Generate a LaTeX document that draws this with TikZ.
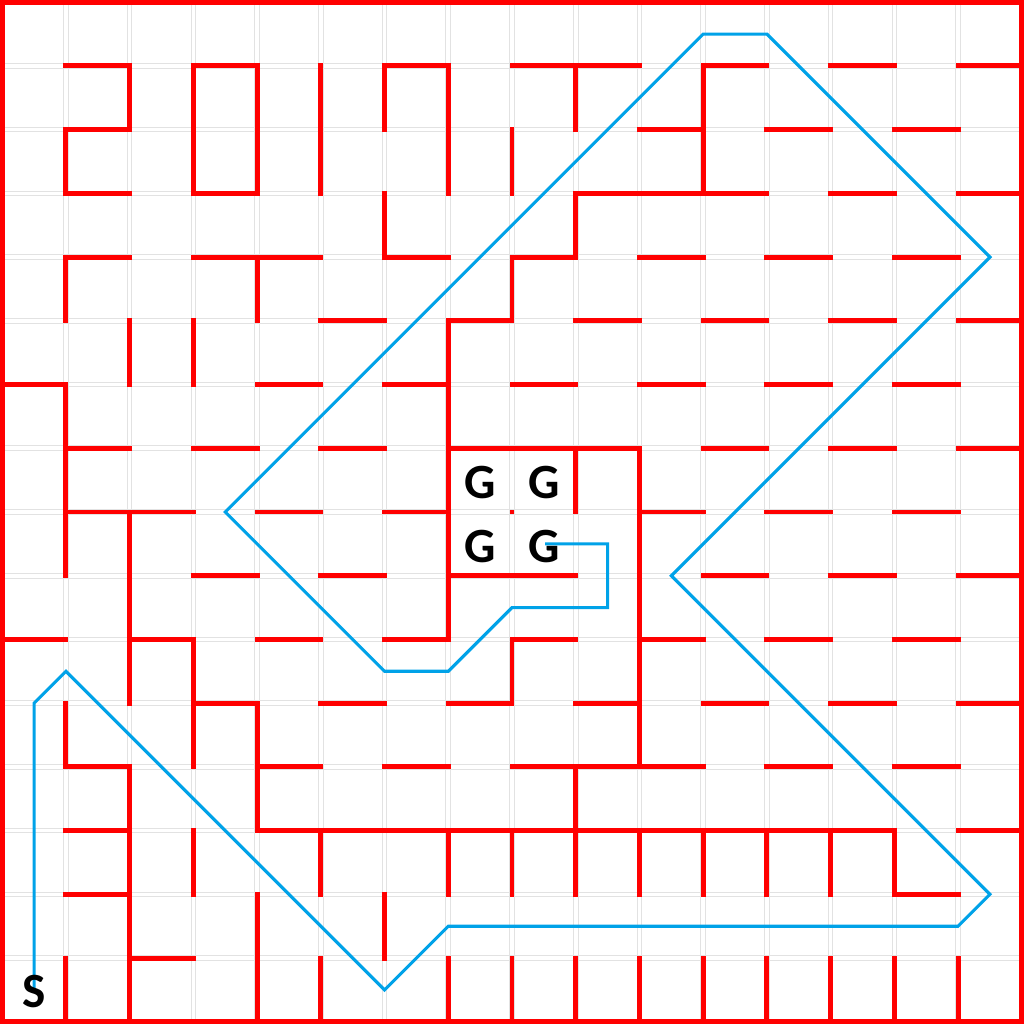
\documentclass[tikz,border=0pt]{standalone}
\usepackage{fontspec}
\setmainfont{Carlito}
\definecolor{wallred}{RGB}{255,0,0}
\definecolor{routeblue}{RGB}{0,162,232}
\definecolor{gridgrey}{RGB}{226,226,226}

\begin{document}
\begin{tikzpicture}[x=1cm,y=-1cm,
  wall/.style={draw=wallred,line width=2.2pt,line cap=rect},
  route/.style={draw=routeblue,line width=1.4pt},
  cellgrid/.style={draw=gridgrey,line width=0.45pt},
  letter/.style={font=\fontsize{22}{22}\selectfont\bfseries,inner sep=0pt}]
\useasboundingbox (-0.035,-0.035) rectangle (16.035,16.035);

% cell lines
\foreach \k in {0,...,16} {
  \draw[cellgrid] (\k-0.036,0) -- (\k-0.036,16) (\k+0.036,0) -- (\k+0.036,16);
  \draw[cellgrid] (0,\k-0.036) -- (16,\k-0.036) (0,\k+0.036) -- (16,\k+0.036);
}

% horizontal walls, row by row
\draw[wall] (1,1) -- (2,1) (3,1) -- (4,1) (6,1) -- (7,1) (8,1) -- (10,1) (11,1) -- (12,1) (13,1) -- (14,1) (15,1) -- (16,1);
\draw[wall] (1,2) -- (2,2) (10,2) -- (11,2) (12,2) -- (13,2) (14,2) -- (15,2);
\draw[wall] (1,3) -- (2,3) (3,3) -- (4,3) (9,3) -- (12,3) (13,3) -- (14,3) (15,3) -- (16,3);
\draw[wall] (1,4) -- (2,4) (3,4) -- (5,4) (6,4) -- (7,4) (8,4) -- (9,4) (10,4) -- (11,4) (12,4) -- (13,4) (14,4) -- (15,4);
\draw[wall] (5,5) -- (6,5) (7,5) -- (8,5) (9,5) -- (10,5) (11,5) -- (12,5) (13,5) -- (14,5) (15,5) -- (16,5);
\draw[wall] (0,6) -- (1,6) (4,6) -- (5,6) (6,6) -- (7,6) (8,6) -- (9,6) (10,6) -- (11,6) (12,6) -- (13,6) (14,6) -- (15,6);
\draw[wall] (1,7) -- (2,7) (3,7) -- (4,7) (5,7) -- (6,7) (7,7) -- (10,7) (11,7) -- (12,7) (13,7) -- (14,7) (15,7) -- (16,7);
\draw[wall] (1,8) -- (3,8) (4,8) -- (5,8) (6,8) -- (7,8) (10,8) -- (11,8) (12,8) -- (13,8) (14,8) -- (15,8);
\draw[wall] (3,9) -- (4,9) (5,9) -- (6,9) (7,9) -- (9,9) (11,9) -- (12,9) (13,9) -- (14,9) (15,9) -- (16,9);
\draw[wall] (0,10) -- (1,10) (2,10) -- (3,10) (4,10) -- (5,10) (6,10) -- (7,10) (8,10) -- (9,10) (10,10) -- (11,10) (12,10) -- (13,10) (14,10) -- (15,10);
\draw[wall] (3,11) -- (4,11) (5,11) -- (6,11) (7,11) -- (8,11) (9,11) -- (10,11) (11,11) -- (12,11) (13,11) -- (14,11) (15,11) -- (16,11);
\draw[wall] (1,12) -- (2,12) (4,12) -- (5,12) (6,12) -- (7,12) (8,12) -- (11,12) (12,12) -- (13,12) (14,12) -- (15,12);
\draw[wall] (1,13) -- (2,13) (4,13) -- (14,13) (15,13) -- (16,13);
\draw[wall] (1,14) -- (2,14) (14,14) -- (15,14);
\draw[wall] (2,15) -- (3,15);

% vertical walls, column by column
\draw[wall] (1,2) -- (1,3) (1,4) -- (1,5) (1,6) -- (1,9) (1,11) -- (1,12) (1,15) -- (1,16);
\draw[wall] (2,1) -- (2,2) (2,5) -- (2,6) (2,8) -- (2,11) (2,12) -- (2,16);
\draw[wall] (3,1) -- (3,3) (3,5) -- (3,6) (3,10) -- (3,12) (3,13) -- (3,14);
\draw[wall] (4,1) -- (4,3) (4,4) -- (4,5) (4,11) -- (4,13) (4,14) -- (4,16);
\draw[wall] (5,1) -- (5,3) (5,13) -- (5,14) (5,15) -- (5,16);
\draw[wall] (6,1) -- (6,2) (6,3) -- (6,4) (6,14) -- (6,15);
\draw[wall] (7,1) -- (7,3) (7,5) -- (7,10) (7,13) -- (7,14) (7,15) -- (7,16);
\draw[wall] (8,2) -- (8,3) (8,4) -- (8,5) (8,10) -- (8,11) (8,13) -- (8,14) (8,15) -- (8,16);
\draw[wall] (9,1) -- (9,2) (9,3) -- (9,4) (9,7) -- (9,8) (9,12) -- (9,14) (9,15) -- (9,16);
\draw[wall] (10,7) -- (10,12) (10,13) -- (10,14) (10,15) -- (10,16);
\draw[wall] (11,1) -- (11,3) (11,13) -- (11,14) (11,15) -- (11,16);
\draw[wall] (12,13) -- (12,14) (12,15) -- (12,16);
\draw[wall] (13,13) -- (13,14) (13,15) -- (13,16);
\draw[wall] (14,13) -- (14,14) (14,15) -- (14,16);
\draw[wall] (15,15) -- (15,16);
\fill[wallred] (7.97,7.97) rectangle (8.03,8.03);

% outer wall
\draw[wall] (0,0) rectangle (16,16);

% route from S to G
\coordinate (start) at (0.5,15.5);
\coordinate (goal) at (8.52,8.5);
\draw[route] (start) -- (0.5,11) -- (1,10.5) -- (6,15.5) -- (7,14.5) -- (15,14.5) -- (15.5,14) -- (10.5,9) -- (15.5,4) -- (12,0.5) -- (11,0.5) -- (3.5,8) -- (6,10.5) -- (7,10.5) -- (8,9.5) -- (9.5,9.5) -- (9.5,8.5) -- (goal);

\node[letter] (s) at (0.5,15.53) {S};
\node[letter] (g1) at (7.5,7.54) {G};
\node[letter] (g2) at (8.5,7.54) {G};
\node[letter] (g3) at (7.5,8.54) {G};
\node[letter] (g4) at (8.5,8.54) {G};
\end{tikzpicture}
\end{document}
